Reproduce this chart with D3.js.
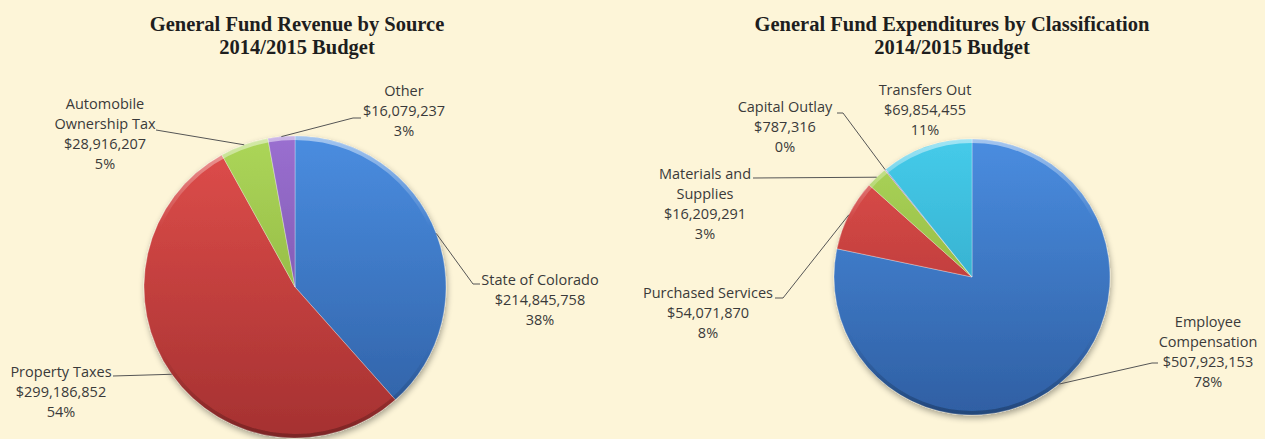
<!DOCTYPE html>
<html>
<head>
<meta charset="utf-8">
<script src="https://cdn.jsdelivr.net/npm/d3@7"></script>
<style>
  html, body { margin: 0; padding: 0; background: #fdf5d8; }
  svg { display: block; }
</style>
</head>
<body>
<div id="chart"></div>
<script>
// revenue chart data
var revNames = ["State of Colorado", "Property Taxes", "Automobile|Ownership Tax", "Other"];
var revValues = [214845758, 299186852, 28916207, 16079237];
var revPct = ["38%", "54%", "5%", "3%"];

// expenditure chart data
var expNames = ["Employee|Compensation", "Purchased Services", "Materials and|Supplies", "Capital Outlay", "Transfers Out"];
var expValues = [507923153, 54071870, 16209291, 787316, 69854455];
var expPct = ["78%", "8%", "3%", "0%", "11%"];

var titles = [["General Fund Revenue by Source", "2014/2015 Budget"],
              ["General Fund Expenditures by Classification", "2014/2015 Budget"]];

var width = 1265, height = 439;

// colour ramps (top, bottom) for the excel-ish shading
var revColors = [["#4a8de0", "#2f5fa3"], ["#e04e4b", "#a53131"], ["#acd659", "#84a638"], ["#9a6fd0", "#6d4b9b"]];
var expColors = [["#4a8de0", "#2f5fa3"], ["#e04e4b", "#a53131"], ["#acd659", "#84a638"], ["#9a6fd0", "#6d4b9b"], ["#45cbea", "#2a9bb9"]];

// label placement (text centre x, first line y, leader points at the text end)
var revLayout = [
	{x: 540, y: 280, pts: [[473, 284], [480, 284]]},
	{x: 61, y: 372, pts: [[113, 376]]},
	{x: 105, y: 104, pts: [[156, 130]]},
	{x: 404, y: 91, pts: [[353, 118], [361, 118]]}
];
var expLayout = [
	{x: 1208, y: 322, pts: [[1152, 363], [1158, 363]]},
	{x: 708, y: 293, pts: [[783, 298], [775, 298]]},
	{x: 705, y: 174, pts: [[753, 178]]},
	{x: 785, y: 107, pts: [[843, 113], [837, 113]]},
	{x: 925, y: 90, pts: []}
];

var svg = d3.select("#chart")
	.append("svg")
	.attr("width", width)
	.attr("height", height)
	.attr("viewBox", [0, 0, width, height]);

svg.append("rect")
	.attr("width", width)
	.attr("height", height)
	.attr("fill", "#fdf5d8");

var defs = svg.append("defs");
var shadow = defs.append("filter")
	.attr("id", "shadow")
	.attr("x", "-20%").attr("y", "-20%")
	.attr("width", "140%").attr("height", "140%");
shadow.append("feGaussianBlur").attr("in", "SourceAlpha").attr("stdDeviation", 3);
shadow.append("feOffset").attr("dx", 1).attr("dy", 3).attr("result", "off");
shadow.append("feComponentTransfer").append("feFuncA").attr("type", "linear").attr("slope", 0.35);
var merge = shadow.append("feMerge");
merge.append("feMergeNode");
merge.append("feMergeNode").attr("in", "SourceGraphic");

var money = d3.format(",");

function drawPie(id, cx, cy, r, names, values, pct, colors, layout, title, titleX) {
	var pie = d3.pie().sort(null).value(d => d);
	var arcs = pie(values);
	var arc = d3.arc().innerRadius(0).outerRadius(r);
	var rim = d3.arc().innerRadius(r).outerRadius(r);

	// gradients across the whole pie height (local coords, centre at 0,0)
	colors.forEach(function(c, i) {
		var g = defs.append("linearGradient")
			.attr("id", id + "g" + i)
			.attr("gradientUnits", "userSpaceOnUse")
			.attr("x1", 0).attr("y1", -r)
			.attr("x2", 0).attr("y2", r);
		g.append("stop").attr("offset", "0%").attr("stop-color", c[0]);
		g.append("stop").attr("offset", "100%").attr("stop-color", c[1]);
	});
	var bev = defs.append("linearGradient")
		.attr("id", id + "bev")
		.attr("gradientUnits", "userSpaceOnUse")
		.attr("x1", 0).attr("y1", -r)
		.attr("x2", 0).attr("y2", r);
	bev.append("stop").attr("offset", "0%").attr("stop-color", "#fff").attr("stop-opacity", 0.5);
	bev.append("stop").attr("offset", "30%").attr("stop-color", "#fff").attr("stop-opacity", 0);
	bev.append("stop").attr("offset", "70%").attr("stop-color", "#000").attr("stop-opacity", 0);
	bev.append("stop").attr("offset", "100%").attr("stop-color", "#000").attr("stop-opacity", 0.25);

	var g = svg.append("g")
		.attr("transform", "translate(" + cx + "," + cy + ")")
		.attr("filter", "url(#shadow)");

	g.selectAll("path.slice")
		.data(arcs)
		.join("path")
		.attr("class", "slice")
		.attr("d", arc)
		.attr("fill", (d, i) => "url(#" + id + "g" + i + ")")
		.attr("stroke", "rgba(255,255,255,0.3)")
		.attr("stroke-width", 1)
		.attr("stroke-linejoin", "round");

	// soft bevel rim
	g.append("circle")
		.attr("r", r - 2)
		.attr("fill", "none")
		.attr("stroke", "url(#" + id + "bev)")
		.attr("stroke-width", 4);

	// leader lines
	svg.append("g")
		.selectAll("path")
		.data(arcs.filter((d, i) => layout[i].pts.length))
		.join("path")
		.attr("d", function(d) {
			var p = rim.centroid(d);
			var pts = [[cx + p[0], cy + p[1]]].concat(layout[d.index].pts);
			return d3.line()(pts);
		})
		.attr("fill", "none")
		.attr("stroke", "#555")
		.attr("stroke-width", 1);

	// labels
	var lab = svg.append("g")
		.attr("font-family", "'Open Sans', sans-serif")
		.attr("font-size", 14.5)
		.attr("fill", "#3a3a3a")
		.attr("text-anchor", "middle");
	arcs.forEach(function(d, i) {
		var lines = names[i].split("|").concat(["$" + money(values[i]), pct[i]]);
		var t = lab.append("text");
		lines.forEach(function(s, k) {
			t.append("tspan")
				.attr("x", layout[i].x)
				.attr("y", layout[i].y + k * 20)
				.attr("dy", "0.35em")
				.text(s);
		});
	});

	// title
	var tt = svg.append("text")
		.attr("font-family", "'Liberation Serif', 'Times New Roman', serif")
		.attr("font-weight", "bold")
		.attr("font-size", 20.5)
		.attr("fill", "#1e1e1e")
		.attr("text-anchor", "middle");
	title.forEach(function(s, k) {
		tt.append("tspan")
			.attr("x", titleX)
			.attr("y", 24 + k * 23)
			.attr("dy", "0.35em")
			.text(s);
	});
}

drawPie("rev", 295, 287, 151, revNames, revValues, revPct, revColors, revLayout, titles[0], 297);
drawPie("exp", 972, 277, 138, expNames, expValues, expPct, expColors, expLayout, titles[1], 952);
</script>
</body>
</html>
